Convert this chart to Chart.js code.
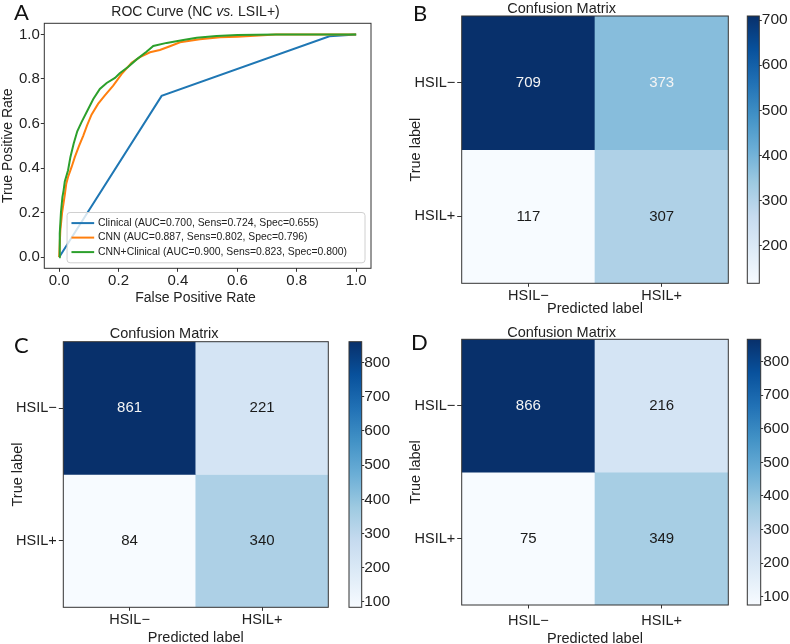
<!DOCTYPE html>
<html>
<head>
<meta charset="utf-8">
<script src="https://cdn.jsdelivr.net/npm/chart.js@4.4.1/dist/chart.umd.min.js"></script>
<style>
  body { margin: 0; background: #fff; }
  #page { position: relative; width: 790px; height: 644px; overflow: hidden; font-family: "Liberation Sans", Arial, sans-serif; color: #222; }
  .box { position: absolute; }
  .txt { position: absolute; white-space: nowrap; line-height: 1; }
  .letter { font-family: Lato, "Liberation Sans", sans-serif; font-size: 22px; color: #111; }
</style>
</head>
<body>
<div id="page">
  <div class="box" style="left:0;top:0;width:395px;height:320px"><canvas id="roc" width="395" height="320"></canvas></div>
  <div class="box" style="left:395px;top:0;width:345px;height:320px"><canvas id="cmB" width="345" height="320"></canvas></div>
  <div class="box" style="left:740px;top:0;width:50px;height:320px"><canvas id="cbB" width="50" height="320"></canvas></div>
  <div class="box" style="left:0;top:320px;width:340px;height:324px"><canvas id="cmC" width="340" height="324"></canvas></div>
  <div class="box" style="left:340px;top:320px;width:55px;height:324px"><canvas id="cbC" width="55" height="324"></canvas></div>
  <div class="box" style="left:395px;top:320px;width:345px;height:324px"><canvas id="cmD" width="345" height="324"></canvas></div>
  <div class="box" style="left:740px;top:320px;width:50px;height:324px"><canvas id="cbD" width="50" height="324"></canvas></div>

  <div class="txt" style="left:195.5px;top:4px;transform:translateX(-50%);font-size:14px">ROC Curve (NC <i>vs.</i> LSIL+)</div>
  <div class="txt" style="left:195.5px;top:290px;transform:translateX(-50%);font-size:14px">False Positive Rate</div>

  <div class="txt letter" style="left:14px;top:1px">A</div>
  <div class="txt letter" style="left:413px;top:2px">B</div>
  <div class="txt letter" style="left:14px;top:334px">C</div>
  <div class="txt letter" style="left:411px;top:331px">D</div>
</div>

<script>
// ROC curves
const rocTicks = [0, 0.2, 0.4, 0.6, 0.8, 1.0];
const rocNames = [
  'Clinical (AUC=0.700, Sens=0.724, Spec=0.655)',
  'CNN (AUC=0.887, Sens=0.802, Spec=0.796)',
  'CNN+Clinical (AUC=0.900, Sens=0.823, Spec=0.800)'
];
const clinicalFpr = [0, 0.345, 0.91, 1];
const clinicalTpr = [0, 0.724, 0.992, 1];
const cnnFpr = [0, 0.004, 0.01, 0.019, 0.024, 0.03, 0.042, 0.053, 0.067, 0.081, 0.094, 0.109, 0.131, 0.154, 0.182, 0.21, 0.244, 0.272, 0.306, 0.339, 0.373, 0.407, 0.474, 0.542, 0.6, 0.73, 1];
const cnnTpr = [0, 0.12, 0.2, 0.28, 0.33, 0.36, 0.405, 0.45, 0.5, 0.545, 0.592, 0.64, 0.688, 0.726, 0.77, 0.822, 0.873, 0.898, 0.92, 0.93, 0.947, 0.965, 0.978, 0.987, 0.99, 1, 1];
const comboFpr = [0, 0.002, 0.006, 0.011, 0.015, 0.019, 0.03, 0.038, 0.049, 0.061, 0.075, 0.094, 0.115, 0.137, 0.16, 0.188, 0.204, 0.233, 0.261, 0.294, 0.317, 0.362, 0.418, 0.463, 0.53, 0.6, 0.73, 1];
const comboTpr = [0, 0.106, 0.2, 0.27, 0.3, 0.34, 0.39, 0.45, 0.51, 0.565, 0.605, 0.655, 0.71, 0.755, 0.782, 0.805, 0.826, 0.855, 0.888, 0.922, 0.948, 0.962, 0.975, 0.985, 0.993, 0.997, 1, 1];

// confusion matrices: rows = true label, cols = predicted label
const classLabels = ['HSIL\u2212', 'HSIL+'];
const cmB = [[709, 373], [117, 307]];
const cmC = [[861, 221], [84, 340]];
const cmD = [[866, 216], [75, 349]];
const colorbarTicks = [100, 200, 300, 400, 500, 600, 700, 800];

const FONT = '"Liberation Sans", Arial, sans-serif';
Chart.defaults.font.family = FONT;
Chart.defaults.color = '#222';

// matplotlib "Blues"
const bluesStops = ['#f7fbff', '#deebf7', '#c6dbef', '#9ecae1', '#6baed6', '#4292c6', '#2171b5', '#08519c', '#08306b'];
function hexRgb(h) { return [1, 3, 5].map(i => parseInt(h.substr(i, 2), 16)); }
function blues(t) {
  t = Math.max(0, Math.min(1, t));
  let p = t * (bluesStops.length - 1);
  let i = Math.min(Math.floor(p), bluesStops.length - 2);
  let f = p - i;
  let a = hexRgb(bluesStops[i]), b = hexRgb(bluesStops[i + 1]);
  let c = a.map((v, k) => Math.round(v + (b[k] - v) * f));
  return `rgb(${c[0]},${c[1]},${c[2]})`;
}

const frame = {
  id: 'frame',
  afterDatasetsDraw(chart) {
    const {ctx, chartArea: a} = chart;
    ctx.save();
    ctx.strokeStyle = '#333';
    ctx.lineWidth = 1;
    ctx.strokeRect(a.left, a.top, a.right - a.left, a.bottom - a.top);
    ctx.restore();
  }
};

// legend drawn inside the plot, lower right
const rocLegend = {
  id: 'rocLegend',
  afterDatasetsDraw(chart) {
    const {ctx, chartArea: a} = chart;
    const sets = chart.data.datasets;
    ctx.save();
    ctx.font = '10.4px ' + FONT;
    const textW = Math.max(...sets.map(d => ctx.measureText(d.label).width));
    const rowH = 14.5;
    const w = textW + 49, h = rowH * (sets.length - 1) + 21.3;
    const x0 = a.right - 6 - w, y0 = a.bottom - 5.5 - h;
    ctx.beginPath();
    ctx.roundRect(x0, y0, w, h, 3);
    ctx.fillStyle = 'rgba(255,255,255,0.8)';
    ctx.fill();
    ctx.strokeStyle = '#d0d0d0';
    ctx.lineWidth = 1;
    ctx.stroke();
    sets.forEach((d, i) => {
      const y = y0 + 10.6 + i * rowH;
      ctx.beginPath();
      ctx.moveTo(x0 + 4.4, y);
      ctx.lineTo(x0 + 27.1, y);
      ctx.strokeStyle = d.borderColor;
      ctx.lineWidth = 2;
      ctx.stroke();
      ctx.fillStyle = '#222';
      ctx.textBaseline = 'middle';
      ctx.fillText(d.label, x0 + 31, y);
    });
    ctx.restore();
  }
};

function pts(xs, ys) { return xs.map((x, i) => ({x: x, y: ys[i]})); }

new Chart(document.getElementById('roc'), {
  type: 'scatter',
  data: {
    datasets: [
      {label: rocNames[0], data: pts(clinicalFpr, clinicalTpr), borderColor: '#1f77b4', order: 2},
      {label: rocNames[1], data: pts(cnnFpr, cnnTpr), borderColor: '#ff7f0e', order: 1},
      {label: rocNames[2], data: pts(comboFpr, comboTpr), borderColor: '#2ca02c', order: 0}
    ].map(d => Object.assign(d, {showLine: true, pointRadius: 0, borderWidth: 2, fill: false}))
  },
  options: {
    responsive: false,
    animation: false,
    layout: {padding: {top: 23.3, right: 24, bottom: 0, left: 0}},
    plugins: {legend: {display: false}, tooltip: {enabled: false}},
    scales: {
      x: {
        type: 'linear', min: -0.05, max: 1.05,
        afterBuildTicks: s => { s.ticks = rocTicks.map(v => ({value: v})); },
        afterFit: s => { s.height = 51.7; },
        ticks: {callback: v => v.toFixed(1), font: {size: 15}, padding: 0, maxRotation: 0},
        grid: {drawOnChartArea: false, tickLength: 3.5, color: '#333'},
        border: {display: false}
      },
      y: {
        type: 'linear', min: -0.05, max: 1.05,
        afterBuildTicks: s => { s.ticks = rocTicks.map(v => ({value: v})); },
        afterFit: s => { s.width = 44.3; },
        ticks: {callback: v => v.toFixed(1), font: {size: 15}, padding: 1},
        grid: {drawOnChartArea: false, tickLength: 3.5, color: '#333'},
        border: {display: false},
        title: {display: true, text: 'True Positive Rate', font: {size: 14}, padding: {top: 0, bottom: 0}}
      }
    }
  },
  plugins: [rocLegend, frame]
});

// numbers in the cells
const cellText = {
  id: 'cellText',
  afterDatasetsDraw(chart) {
    const ctx = chart.ctx;
    const all = chart.data.datasets.flatMap(d => d.values);
    const vmax = Math.max(...all);
    ctx.save();
    ctx.font = '15px ' + FONT;
    ctx.textAlign = 'center';
    ctx.textBaseline = 'middle';
    chart.data.datasets.forEach((ds, i) => {
      chart.getDatasetMeta(i).data.forEach((bar, j) => {
        const v = ds.values[j];
        const c = bar.getCenterPoint();
        ctx.fillStyle = v > vmax / 2 ? '#f4f4f4' : '#1a1a1a';
        ctx.fillText(String(v), c.x, c.y);
      });
    });
    ctx.restore();
  }
};

function heatmap(id, cm, lay) {
  const flat = cm.flat();
  const vmin = Math.min(...flat), vmax = Math.max(...flat);
  new Chart(document.getElementById(id), {
    type: 'bar',
    data: {
      labels: classLabels,
      datasets: cm.map((row, i) => ({
        data: row.map(() => [i, i + 1]),
        values: row,
        backgroundColor: row.map(v => blues((v - vmin) / (vmax - vmin))),
        borderWidth: 0,
        grouped: false,
        barPercentage: 1,
        categoryPercentage: 1
      }))
    },
    options: {
      responsive: false,
      animation: false,
      layout: {padding: {top: 0, right: lay.right, bottom: 0, left: 0}},
      plugins: {
        legend: {display: false},
        tooltip: {enabled: false},
        title: {display: true, text: 'Confusion Matrix', color: '#222',
          font: {size: 14.5, weight: 'normal', lineHeight: 1}, padding: {top: lay.titleTop, bottom: lay.titleBottom}}
      },
      scales: {
        x: {
          afterFit: s => { s.height = lay.xh; },
          ticks: {font: {size: 14.5}, padding: lay.xpad, maxRotation: 0},
          grid: {drawOnChartArea: false, offset: false, tickLength: 3.5, color: '#333'},
          border: {display: false},
          title: {display: true, text: 'Predicted label', font: {size: 14.5}, padding: {top: 0, bottom: lay.xtitle}}
        },
        y: {
          type: 'linear', min: 0, max: cm.length, reverse: true,
          afterBuildTicks: s => { s.ticks = classLabels.map((_, i) => ({value: i + 0.5})); },
          afterFit: s => { s.width = lay.yw; },
          ticks: {callback: (v, i) => classLabels[i], font: {size: 14.5}, padding: 2},
          grid: {drawOnChartArea: false, tickLength: 4.5, color: '#333'},
          border: {display: false},
          title: {display: true, text: 'True label', font: {size: 14.5}, padding: {top: lay.ytitle, bottom: 0}}
        }
      }
    },
    plugins: [cellText, frame]
  });
}

function colorbar(id, cm, lay) {
  const flat = cm.flat();
  const vmin = Math.min(...flat), vmax = Math.max(...flat);
  new Chart(document.getElementById(id), {
    type: 'bar',
    data: {
      labels: [''],
      datasets: [{
        data: [[vmin, vmax]],
        borderWidth: 0,
        barPercentage: 1,
        categoryPercentage: 1,
        backgroundColor: c => {
          const a = c.chart.chartArea;
          if (!a) return bluesStops[0];
          const g = c.chart.ctx.createLinearGradient(0, a.bottom, 0, a.top);
          bluesStops.forEach((col, k) => g.addColorStop(k / (bluesStops.length - 1), col));
          return g;
        }
      }]
    },
    options: {
      responsive: false,
      animation: false,
      layout: {padding: {top: lay.top, right: 0, bottom: lay.bottom, left: lay.left}},
      plugins: {legend: {display: false}, tooltip: {enabled: false}},
      scales: {
        x: {display: false},
        y: {
          position: 'right', min: vmin, max: vmax,
          afterBuildTicks: s => { s.ticks = colorbarTicks.filter(t => t >= vmin && t <= vmax).map(v => ({value: v})); },
          afterFit: s => { s.width = lay.w; },
          ticks: {font: {size: 15.5}, padding: 0},
          grid: {drawOnChartArea: false, tickLength: 2.5, color: '#333'},
          border: {display: false}
        }
      }
    },
    plugins: [frame]
  });
}

heatmap('cmB', cmB, {right: 11.7, titleTop: 1.5, titleBottom: 0, xh: 36.7, xpad: 0, xtitle: 2.3, yw: 66.7, ytitle: 12});
heatmap('cmC', cmC, {right: 11.7, titleTop: 6.75, titleBottom: 0.45, xh: 36.7, xpad: 0.2, xtitle: -2.7, yw: 63.3, ytitle: 8.8});
heatmap('cmD', cmD, {right: 11.7, titleTop: 5.25, titleBottom: -0.45, xh: 39, xpad: 4, xtitle: -3.9, yw: 66.7, ytitle: 12.1});

colorbar('cbB', cmB, {top: 16, bottom: 36.7, left: 7.3, w: 30.7});
colorbar('cbC', cmC, {top: 21.7, bottom: 36.7, left: 9, w: 33.3});
colorbar('cbD', cmD, {top: 19.3, bottom: 39, left: 7.3, w: 29.3});
</script>
</body>
</html>
